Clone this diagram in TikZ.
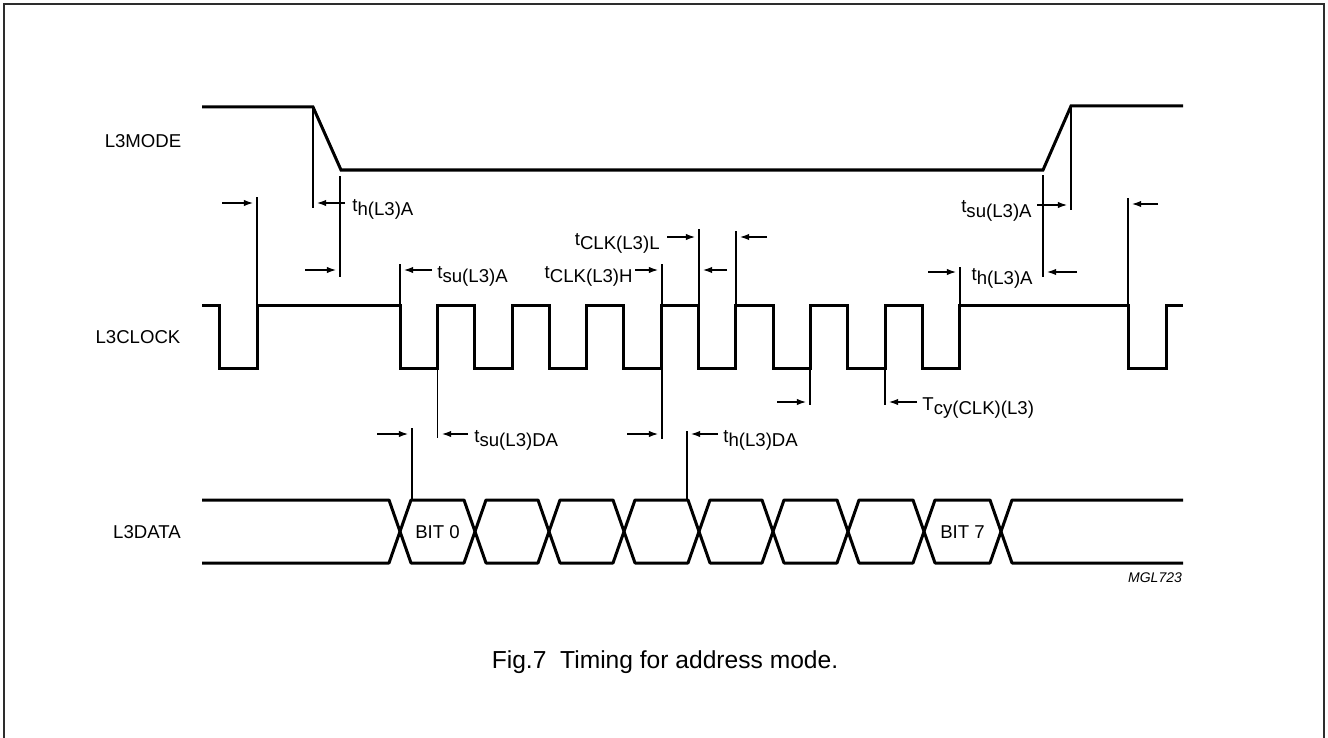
\documentclass[tikz,border=0pt]{standalone}
\usepackage{fontspec}
\setmainfont{Liberation Sans}
\usepackage{xcolor}
\definecolor{ColBlack}{RGB}{0,0,0}
\definecolor{ColFrame}{RGB}{45,45,45}
\usepackage{tikz}
\usetikzlibrary{arrows.meta}
\tikzstyle{Signal}=[ColBlack!100,draw,line width=1.5pt]
\tikzstyle{Guide}=[ColBlack!100,draw,line width=0.55pt]
\tikzstyle{Mark}=[ColBlack!100,draw,line width=0.55pt,
-{Latex[length=4.6pt,width=3.2pt]}]
\tikzstyle{SigName}=[font=\fontsize{9.3}{11}\selectfont,inner sep=0pt]
\tikzstyle{Param}=[font=\fontsize{9.3}{11}\selectfont,inner sep=0pt]
\newcommand{\Tm}[2]{#1\raisebox{-2.3pt}{#2}}

\begin{document}
\begin{tikzpicture}[x=0.5pt,y=-0.5pt]
        \useasboundingbox(0,0)rectangle(1328,738);
        \draw[ColFrame,line width=1pt](4,740)--(4,4)--(1324,4)--(1324,740);
        % signal names
        \node[SigName](LMode)at(143,141){L3MODE};
        \node[SigName](LClock)at(138,337){L3CLOCK};
        \node[SigName](LData)at(147,532){L3DATA};
        % L3MODE
        \draw[Signal](202,107)--(313,107)--(341,170)--(1043,170)
            --(1071,106)--(1183,106);
        % L3CLOCK
        \draw[Signal](202,305)--(219,305)--(219,368)--(257,368)--(257,305)
            --(400,305)
            \foreach \k in {0,...,7}{--({400+74.6*\k},305)--({400+74.6*\k},368)
                --({437.5+74.6*\k},368)--({437.5+74.6*\k},305)}
            --(1128,305)--(1128,368)--(1166,368)--(1166,305)--(1183,305);
        % L3DATA
        \draw[Signal,line join=bevel](202,500)--(389,500)--(400,531.5)
            --(389,563)--(202,563);
        \foreach \a/\b in {400/475,475/549,549/624,624/699,699/773,773/848,
            848/924,924/1001}
            \draw[Signal,line join=bevel](\a,531.5)--(\a+11,500)--(\b-11,500)
                --(\b,531.5)--(\b-11,563)--(\a+11,563)--cycle;
        \draw[Signal,line join=bevel](1183,500)--(1012,500)--(1001,531.5)
            --(1012,563)--(1183,563);
        \node[Param](BitZero)at(437.5,532){BIT 0};
        \node[Param](BitSeven)at(962.5,532){BIT 7};
        \node[font=\fontsize{7}{8}\selectfont\itshape,inner sep=0pt](Code)
            at(1155,578){MGL723};
        % guide lines
        \draw[Guide](257,197)--(257,305);
        \draw[Guide](313,107)--(313,208);
        \draw[Guide](340,176)--(340,277);
        \draw[Guide](400,264)--(400,305);
        \draw[Guide](662,264)--(662,305);
        \draw[Guide](699,229)--(699,305);
        \draw[Guide](736,231)--(736,305);
        \draw[Guide](960,267)--(960,305);
        \draw[Guide](1043,175)--(1043,277);
        \draw[Guide](1071,106)--(1071,210);
        \draw[Guide](1128,198)--(1128,305);
        \draw[Guide](437.5,368)--(437.5,438);
        \draw[Guide](412,428)--(412,500);
        \draw[Guide](662,368)--(662,439);
        \draw[Guide](687,431)--(687,500);
        \draw[Guide](810,368)--(810,405);
        \draw[Guide](885,368)--(885,405);
        % timing arrows
        \draw[Mark](222,203)--(253,203);
        \draw[Mark](345,203)--(317,203);
        \draw[Mark](305,270)--(336,270);
        \draw[Mark](432,270)--(404,270);
        \draw[Mark](635,270)--(658,270);
        \draw[Mark](667,237)--(695,237);
        \draw[Mark](727,270)--(703,270);
        \draw[Mark](767,237)--(740,237);
        \draw[Mark](1037,205)--(1067,205);
        \draw[Mark](1077,272)--(1047,272);
        \draw[Mark](928,272)--(956,272);
        \draw[Mark](1158,204)--(1132,204);
        \draw[Mark](377,434)--(408,434);
        \draw[Mark](468,434)--(442,434);
        \draw[Mark](627,434)--(658,434);
        \draw[Mark](718,434)--(691,434);
        \draw[Mark](777,402)--(806,402);
        \draw[Mark](917,402)--(889,402);
        % timing labels
        \node[Param,anchor=base west](ThLeft)at(352,211){\Tm{t}{h(L3)A}};
        \node[Param,anchor=base west](TsuLeft)at(437,278){\Tm{t}{su(L3)A}};
        \node[Param,anchor=base east](TclkH)at(633,278){\Tm{t}{CLK(L3)H}};
        \node[Param,anchor=base east](TclkL)at(660,245){\Tm{t}{CLK(L3)L}};
        \node[Param,anchor=base east](TsuRight)at(1032,213){\Tm{t}{su(L3)A}};
        \node[Param,anchor=base east](ThRight)at(1033,280){\Tm{t}{h(L3)A}};
        \node[Param,anchor=base west](TsuData)at(474,442){\Tm{t}{su(L3)DA}};
        \node[Param,anchor=base west](ThData)at(723,442){\Tm{t}{h(L3)DA}};
        \node[Param,anchor=base west](Tcy)at(922,410){\Tm{T}{cy(CLK)(L3)}};
        % caption
        \node[font=\fontsize{12.3}{14}\selectfont,inner sep=0pt](Caption)
            at(665,662){Fig.7~ Timing for address mode.};
    \end{tikzpicture}
\end{document}
